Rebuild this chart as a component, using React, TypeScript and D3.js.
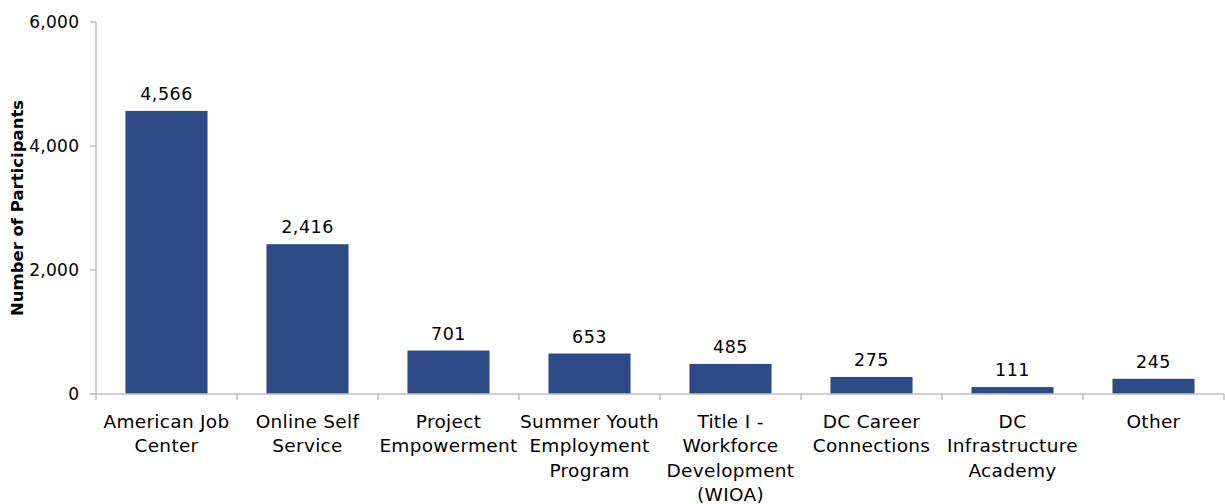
import React from "react";
import * as d3 from "d3";

const categories: string[][] = [
  ["American Job", "Center"],
  ["Online Self", "Service"],
  ["Project", "Empowerment"],
  ["Summer Youth", "Employment", "Program"],
  ["Title I -", "Workforce", "Development", "(WIOA)"],
  ["DC Career", "Connections"],
  ["DC", "Infrastructure", "Academy"],
  ["Other"],
];
const participants: number[] = [4566, 2416, 701, 653, 485, 275, 111, 245];
const yTicks: number[] = [0, 2000, 4000, 6000];
const yTitle = "Number of Participants";

const W = 1225;
const H = 504;
const left = 96;
const right = 1224;
const top = 22;
const bottom = 394;
const font = "Tahoma, 'DejaVu Sans', sans-serif";
const axisColor = "#bfbfbf";
const barColor = "#2d4a87";

export default function App() {
  const keys = categories.map((_, i) => String(i));
  const x = d3.scaleBand<string>().domain(keys).range([left, right]).paddingInner(0.418).paddingOuter(0.209);
  const band = d3.scaleBand<string>().domain(keys).range([left, right]);
  const y = d3.scaleLinear().domain([0, 6000]).range([bottom, top]);
  const fmt = d3.format(",");

  return (
    <svg width={W} height={H} style={{ position: "absolute", left: 0, top: 0 }} fontFamily={font}>
      {participants.map((v, i) => (
        <g key={i}>
          <rect x={x(String(i))} y={y(v)} width={x.bandwidth()} height={y(0) - y(v)} fill={barColor} />
          <text x={x(String(i))! + x.bandwidth() / 2} y={y(v) - 11} textAnchor="middle" fontSize={17.5} letterSpacing={0.5} fill="#000">
            {fmt(v)}
          </text>
        </g>
      ))}
      {/* y axis */}
      <line x1={left} x2={left} y1={top} y2={bottom + 6} stroke={axisColor} strokeWidth={1.5} />
      {yTicks.map((t) => (
        <g key={t}>
          <line x1={left - 6} x2={left} y1={y(t)} y2={y(t)} stroke={axisColor} strokeWidth={1.5} />
          <text x={79.3} y={y(t) + 6} textAnchor="end" fontSize={17} letterSpacing={0.3} fill="#000">
            {fmt(t)}
          </text>
        </g>
      ))}
      {/* x axis */}
      <line x1={left - 6} x2={right} y1={bottom} y2={bottom} stroke={axisColor} strokeWidth={1.5} />
      {keys.map((k) => (
        <line key={k} x1={band(k)! + band.bandwidth()} x2={band(k)! + band.bandwidth()} y1={bottom} y2={bottom + 6} stroke={axisColor} strokeWidth={1.5} />
      ))}
      {categories.map((lines, i) => (
        <text key={i} x={band(String(i))! + band.bandwidth() / 2} textAnchor="middle" fontSize={18.5} letterSpacing={0.3} fill="#000">
          {lines.map((ln, j) => (
            <tspan key={j} x={band(String(i))! + band.bandwidth() / 2} y={428 + j * 24.3}>
              {ln}
            </tspan>
          ))}
        </text>
      ))}
      <text transform={`translate(23,208) rotate(-90)`} textAnchor="middle" fontSize={16.5} fontWeight="bold" fill="#000">
        {yTitle}
      </text>
    </svg>
  );
}
